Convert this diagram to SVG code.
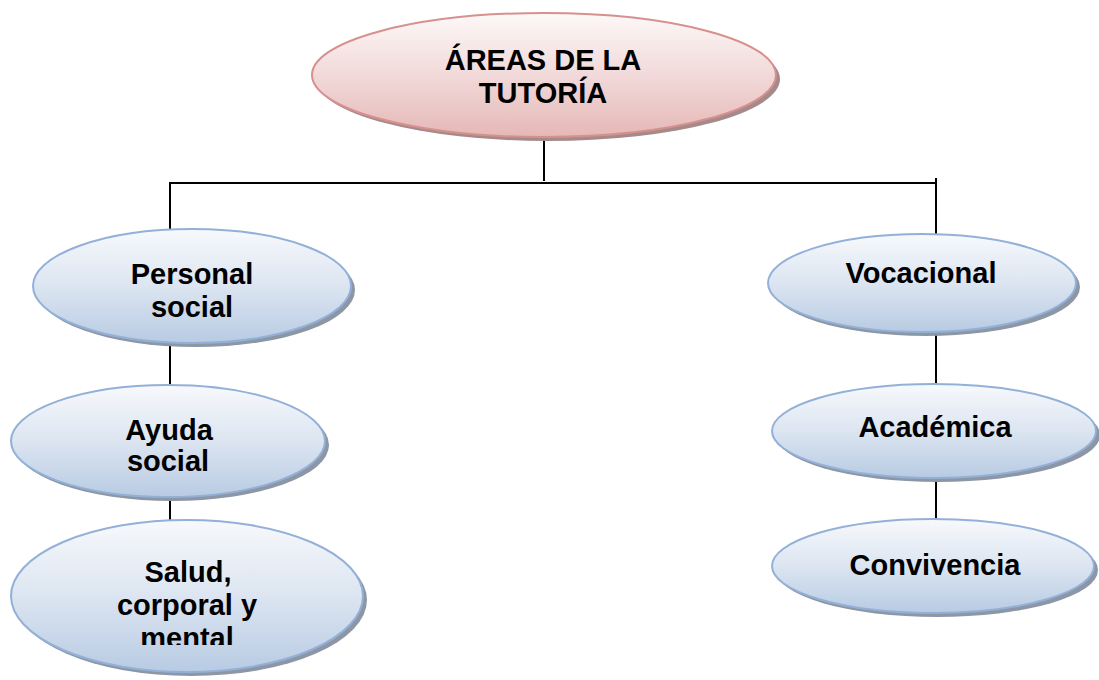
<svg xmlns="http://www.w3.org/2000/svg" width="1099" height="680" viewBox="0 0 1099 680">
<defs>
<linearGradient id="gb" x1="0" y1="0" x2="0" y2="1">
<stop offset="0" stop-color="#f7f9fc"/>
<stop offset="0.5" stop-color="#dce5f1"/>
<stop offset="1" stop-color="#b8cbe3"/>
</linearGradient>
<linearGradient id="gp" x1="0" y1="0" x2="0" y2="1">
<stop offset="0" stop-color="#fdf8f8"/>
<stop offset="0.5" stop-color="#f2d9d9"/>
<stop offset="1" stop-color="#e5b8b7"/>
</linearGradient>
<clipPath id="clipS"><rect x="0" y="0" width="1099" height="645"/></clipPath>
</defs>
<style>
.blue{fill:url(#gb);stroke:#93b1d8;stroke-width:2}
.pink{fill:url(#gp);stroke:#d6918f;stroke-width:2}
.sb{fill:#8c96a4}
.sp{fill:#a58a8a}
.t{font-family:"Liberation Sans",Arial,sans-serif;font-weight:bold;font-size:29px;fill:#000;text-anchor:middle}
.c{stroke:#000;stroke-width:2;fill:none}
</style>
<g id="connectors">
<line class="c" x1="544" y1="138" x2="544" y2="181"/>
<line class="c" x1="169" y1="183" x2="937" y2="183"/>
<line class="c" x1="170" y1="182" x2="170" y2="230"/>
<line class="c" x1="936" y1="178" x2="936" y2="236"/>
<line class="c" x1="170" y1="344" x2="170" y2="384"/>
<line class="c" x1="170" y1="498" x2="170" y2="520"/>
<line class="c" x1="936" y1="333" x2="936" y2="384"/>
<line class="c" x1="936" y1="480" x2="936" y2="519"/>
</g>
<g id="n-areas">
<ellipse class="sp" cx="548" cy="79" rx="232" ry="62"/>
<ellipse class="pink" cx="544" cy="75" rx="232" ry="62"/>
<text class="t" x="543" y="70">ÁREAS DE LA</text>
<text class="t" x="543" y="103">TUTORÍA</text>
</g>
<g id="n-personal">
<ellipse class="sb" cx="196" cy="290" rx="159" ry="57"/>
<ellipse class="blue" cx="192" cy="286" rx="159" ry="57"/>
<text class="t" x="192" y="284">Personal</text>
<text class="t" x="192" y="317">social</text>
</g>
<g id="n-ayuda">
<ellipse class="sb" cx="172" cy="445" rx="157" ry="56"/>
<ellipse class="blue" cx="168" cy="441" rx="157" ry="56"/>
<text class="t" x="169" y="440">Ayuda</text>
<text class="t" x="168" y="471">social</text>
</g>
<g id="n-salud">
<ellipse class="sb" cx="191" cy="600" rx="176" ry="76"/>
<ellipse class="blue" cx="187" cy="596" rx="176" ry="76"/>
<g clip-path="url(#clipS)">
<text class="t" x="188" y="582">Salud,</text>
<text class="t" x="187" y="615">corporal y</text>
<text class="t" x="187" y="648">mental</text>
</g>
</g>
<g id="n-vocacional">
<ellipse class="sb" cx="926" cy="287" rx="154" ry="49"/>
<ellipse class="blue" cx="922" cy="283" rx="154" ry="49"/>
<text class="t" x="921" y="283">Vocacional</text>
</g>
<g id="n-academica">
<ellipse class="sb" cx="938" cy="435" rx="162" ry="47"/>
<ellipse class="blue" cx="934" cy="431" rx="162" ry="47"/>
<text class="t" x="935" y="437">Académica</text>
</g>
<g id="n-convivencia">
<ellipse class="sb" cx="937" cy="570" rx="161" ry="47"/>
<ellipse class="blue" cx="933" cy="566" rx="161" ry="47"/>
<text class="t" x="935" y="575">Convivencia</text>
</g>
</svg>
